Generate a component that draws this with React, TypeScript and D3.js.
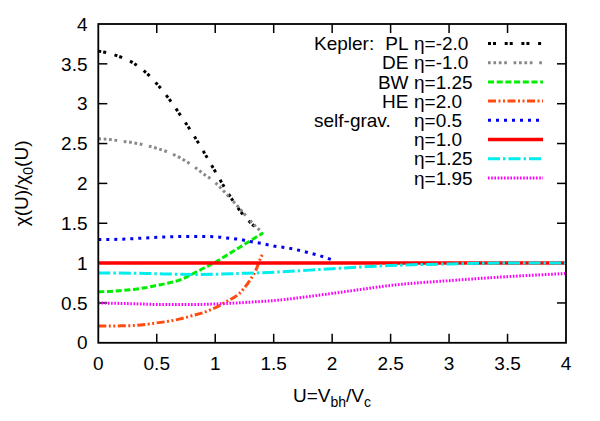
import React from "react";
import * as d3 from "d3";

// ---- data ----
const uPL = [0, 0.1, 0.2, 0.3, 0.4, 0.5, 0.6, 0.7, 0.8, 0.9, 1.0, 1.1, 1.2, 1.3, 1.39];
const vPL = [3.66, 3.63, 3.58, 3.51, 3.4, 3.25, 3.07, 2.86, 2.64, 2.4, 2.15, 1.9, 1.68, 1.51, 1.4];

const uDE = [0, 0.1, 0.2, 0.3, 0.4, 0.5, 0.6, 0.7, 0.8, 0.9, 1.0, 1.1, 1.2, 1.3, 1.39];
const vDE = [2.56, 2.55, 2.53, 2.51, 2.48, 2.44, 2.39, 2.32, 2.23, 2.12, 2.01, 1.86, 1.7, 1.53, 1.4];

const uBW = [0, 0.1, 0.2, 0.3, 0.4, 0.5, 0.6, 0.7, 0.8, 0.9, 1.0, 1.1, 1.2, 1.3, 1.41];
const vBW = [0.64, 0.645, 0.655, 0.67, 0.69, 0.72, 0.75, 0.79, 0.86, 0.935, 1.01, 1.1, 1.19, 1.28, 1.38];

const uHE = [0, 0.1, 0.2, 0.3, 0.4, 0.5, 0.6, 0.7, 0.8, 0.9, 1.0, 1.1, 1.2, 1.28, 1.35, 1.39, 1.41];
const vHE = [0.21, 0.21, 0.213, 0.217, 0.23, 0.25, 0.27, 0.3, 0.34, 0.38, 0.44, 0.52, 0.61, 0.75, 0.92, 1.07, 1.12];

const uSG05 = [0, 0.2, 0.4, 0.6, 0.85, 1.0, 1.1, 1.2, 1.3, 1.4, 1.5, 1.64, 1.8, 1.9, 2.0];
const vSG05 = [1.295, 1.3, 1.315, 1.33, 1.335, 1.33, 1.315, 1.3, 1.27, 1.245, 1.215, 1.185, 1.13, 1.09, 1.04];

const uSG10 = [0, 4];
const vSG10 = [1.0, 1.0];

const uSG125 = [0, 0.4, 0.8, 1.0, 1.2, 1.5, 2.0, 2.5, 3.0, 3.5, 4.0];
const vSG125 = [0.877, 0.87, 0.858, 0.86, 0.87, 0.885, 0.93, 0.97, 0.99, 1.0, 1.0];

const uSG195 = [0, 0.3, 0.55, 0.8, 1.05, 1.3, 1.5, 1.9, 2.2, 2.5, 3.0, 3.5, 4.0];
const vSG195 = [0.5, 0.49, 0.48, 0.48, 0.49, 0.51, 0.53, 0.6, 0.66, 0.72, 0.78, 0.83, 0.87];

const xTicks = [0, 0.5, 1, 1.5, 2, 2.5, 3, 3.5, 4];
const yTicks = [0, 0.5, 1, 1.5, 2, 2.5, 3, 3.5, 4];

const groupLabels = ["Kepler:", "", "", "", "self-grav.", "", "", ""];
const modelLabels = ["PL", "DE", "BW", "HE", "", "", "", ""];
const etaLabels = ["η=-2.0", "η=-1.0", "η=1.25", "η=2.0", "η=0.5", "η=1.0", "η=1.25", "η=1.95"];

const series = [
  { u: uPL, v: vPL, color: "#000000", dash: "3,2,3,8.7", w: 3 },
  { u: uDE, v: vDE, color: "#888888", dash: "2.7,2.7,2.7,2.7,2.7,2.7,2.7,6.7", w: 3 },
  { u: uBW, v: vBW, color: "#00ee00", dash: "6,2.7", w: 3 },
  { u: uHE, v: vHE, color: "#ff4a10", dash: "8,2.5,2,2.5,2,2.5", w: 3 },
  { u: uSG05, v: vSG05, color: "#0000ee", dash: "3,5", w: 3 },
  { u: uSG10, v: vSG10, color: "#ff0000", dash: "", w: 3.5 },
  { u: uSG125, v: vSG125, color: "#00eeee", dash: "12,3,2.5,3", w: 3 },
  { u: uSG195, v: vSG195, color: "#ff00ff", dash: "1.6,1.6", w: 3 },
];

const W = 600;
const H = 421;
const left = 98.3;
const right = 566;
const top = 24;
const bottom = 342.8;
const FONT = "'Liberation Sans', Arial, Helvetica, sans-serif";
const FS = 19;

export default function App() {
  const x = d3.scaleLinear().domain([0, 4]).range([left, right]);
  const y = d3.scaleLinear().domain([0, 4]).range([bottom, top]);
  const line = d3
    .line<[number, number]>()
    .x((d) => x(d[0]))
    .y((d) => y(d[1]))
    .curve(d3.curveMonotoneX);

  const tickLen = 9;
  const legX0 = 314;
  const legModelRight = 408.5;
  const legEta = 414;
  const legS0 = 488;
  const legS1 = 543;
  const legY0 = 43.5;
  const legDy = 19.2;

  return (
    <svg
      width={W}
      height={H}
      style={{ position: "absolute", left: 0, top: 0, background: "#fff" }}
      fontFamily={FONT}
      fontSize={FS}
    >
      <rect x={0} y={0} width={W} height={H} fill="#fff" />
      {/* ticks */}
      {xTicks.map((t, i) => (
        <g key={"xt" + i}>
          {i > 0 && i < xTicks.length - 1 && (
            <>
              <line x1={x(t)} x2={x(t)} y1={bottom} y2={bottom - tickLen} stroke="#000" strokeWidth={1.5} />
              <line x1={x(t)} x2={x(t)} y1={top} y2={top + tickLen} stroke="#000" strokeWidth={1.5} />
            </>
          )}
          <text x={x(t)} y={369.5} textAnchor="middle" fill="#000">
            {t}
          </text>
        </g>
      ))}
      {yTicks.map((t, i) => (
        <g key={"yt" + i}>
          {i > 0 && i < yTicks.length - 1 && (
            <>
              <line x1={left} x2={left + tickLen} y1={y(t)} y2={y(t)} stroke="#000" strokeWidth={1.5} />
              <line x1={right} x2={right - tickLen} y1={y(t)} y2={y(t)} stroke="#000" strokeWidth={1.5} />
            </>
          )}
          <text x={87.5} y={y(t)} dy="0.35em" textAnchor="end" fill="#000">
            {t}
          </text>
        </g>
      ))}

      {/* curves */}
      {series.map((s, i) => (
        <path
          key={"s" + i}
          d={line(s.u.map((u, j) => [u, s.v[j]] as [number, number])) || ""}
          fill="none"
          stroke={s.color}
          strokeWidth={s.w}
          strokeDasharray={s.dash || undefined}
        />
      ))}

      {/* frame */}
      <rect x={left} y={top} width={right - left} height={bottom - top} fill="none" stroke="#000" strokeWidth={1.8} />

      {/* legend */}
      {etaLabels.map((lab, i) => {
        const yy = legY0 + i * legDy;
        const s = series[i];
        return (
          <g key={"lg" + i}>
            {groupLabels[i] && (
              <text x={legX0} y={yy} dy="0.35em" fill="#000">
                {groupLabels[i]}
              </text>
            )}
            {modelLabels[i] && (
              <text x={legModelRight} y={yy} dy="0.35em" textAnchor="end" fill="#000">
                {modelLabels[i]}
              </text>
            )}
            <text x={legEta} y={yy} dy="0.35em" fill="#000">
              {lab}
            </text>
            <line
              x1={legS0}
              x2={legS1}
              y1={yy}
              y2={yy}
              stroke={s.color}
              strokeWidth={s.w}
              strokeDasharray={s.dash || undefined}
            />
          </g>
        );
      })}

      {/* axis titles */}
      <text x={332} y={402} textAnchor="middle" fill="#000">
        U=V<tspan fontSize={14} dy={5}>bh</tspan>
        <tspan dy={-5}>/V</tspan>
        <tspan fontSize={14} dy={5}>c</tspan>
      </text>
      <text transform={`translate(28,${(top + bottom) / 2}) rotate(-90)`} textAnchor="middle" fill="#000">
        χ(U)/χ<tspan fontSize={14} dy={5}>0</tspan>
        <tspan dy={-5}>(U)</tspan>
      </text>
    </svg>
  );
}
